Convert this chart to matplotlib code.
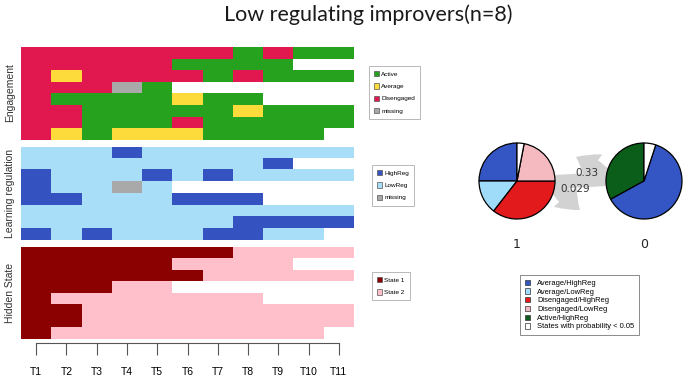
import numpy as np
import matplotlib
matplotlib.use("Agg")
import matplotlib.pyplot as plt
from matplotlib.colors import to_rgba
from matplotlib.patches import Patch

# sequences (one string per person, one letter per time point, "." = no data)
times = ["T1", "T2", "T3", "T4", "T5", "T6", "T7", "T8", "T9", "T10", "T11"]

# A = Active, V = Average, D = Disengaged, M = missing
engagement = [
    "DDDDDDDADAA",
    "DDDDDAAAA..",
    "DVDDDDADAAA",
    "DDDMA......",
    "DAAAAVAA...",
    "DDAAAAAVAAA",
    "DDAAADAAAAA",
    "DVAVVVAAAA.",
]
# H = HighReg, L = LowReg, M = missing
regulation = [
    "LLLHLLLLLLL",
    "LLLLLLLLH..",
    "HLLLHLHLLLL",
    "HLLML......",
    "HHLLLHHH...",
    "LLLLLLLLLLL",
    "LLLLLLLHHHH",
    "HLHLLLHHLL.",
]
# 1 = State 1, 2 = State 2
hidden = [
    "11111112222",
    "111112222..",
    "11111122222",
    "11122......",
    "12222222...",
    "11222222222",
    "11222222222",
    "1222222222.",
]

eng_labels = {"A": "Active", "V": "Average", "D": "Disengaged", "M": "missing"}
eng_colors = {"A": "#27a21f", "V": "#fddb3a", "D": "#e0184f", "M": "#a9a9a9"}
reg_labels = {"H": "HighReg", "L": "LowReg", "M": "missing"}
reg_colors = {"H": "#3453c0", "L": "#a8def8", "M": "#a9a9a9"}
hid_labels = {"1": "State 1", "2": "State 2"}
hid_colors = {"1": "#8b0000", "2": "#ffc0cb"}

# emission pies (counter clockwise from the top)
pie1_values = [0.25, 0.145, 0.355, 0.22, 0.03]
pie1_colors = ["#3456c4", "#9fdcfa", "#e31a1c", "#f5b9c0", "white"]
pie2_values = [0.33, 0.62, 0.05]
pie2_colors = ["#0b5e1a", "#3456c4", "white"]
pie_names = ["1", "0"]
trans_labels = ["0.33", "0.029"]
pie_legend = ["Average/HighReg", "Average/LowReg", "Disengaged/HighReg",
              "Disengaged/LowReg", "Active/HighReg", "States with probability < 0.05"]
pie_legend_colors = ["#3456c4", "#9fdcfa", "#e31a1c", "#f5b9c0", "#0b5e1a", "white"]

W, H = 685, 378
fig = plt.figure(figsize=(W / 100, H / 100), dpi=100)
plt.rcParams["font.family"] = ["Liberation Sans", "DejaVu Sans"]


def fx(px):
    return px / W


def fy(py):
    return 1 - py / H


# overlay in pixel coords for the arrows
over = fig.add_axes([0, 0, 1, 1])
over.set_xlim(0, W)
over.set_ylim(H, 0)
over.axis("off")


def seq_panel(top, bottom, rows, colors):
    ax = fig.add_axes([fx(21), fy(bottom), fx(354) - fx(21), fy(top) - fy(bottom)])
    img = np.ones((len(rows), len(times), 4))
    for i, r in enumerate(rows):
        for j, c in enumerate(r):
            if c != ".":
                img[i, j] = to_rgba(colors[c])
    ax.imshow(img, extent=(0.5, len(times) + 0.5, len(rows) + 0.5, 0.5),
              aspect="auto", interpolation="nearest")
    ax.set_xlim(0.5, len(times) + 0.5)
    for s in ax.spines.values():
        s.set_visible(False)
    ax.set_xticks([])
    ax.set_yticks([])
    return ax


ax1 = seq_panel(47, 140, engagement, eng_colors)
ax2 = seq_panel(147, 240, regulation, reg_colors)
ax3 = seq_panel(247, 339, hidden, hid_colors)

ax3.spines["bottom"].set_visible(True)
ax3.spines["bottom"].set_position(("outward", 3))
ax3.spines["bottom"].set_bounds(1, len(times))
ax3.spines["bottom"].set_color("#555555")
ax3.set_xticks(range(1, len(times) + 1))
ax3.set_xticklabels(times, fontsize=7.5)
ax3.tick_params(axis="x", length=8.5, width=0.8, color="#555555", pad=9)

for txt, yc in [("Engagement", 93), ("Learning regulation", 193), ("Hidden State", 293)]:
    fig.text(fx(10), fy(yc), txt, rotation=90, ha="center", va="center", fontsize=7.5,
             color="#333333")


def seq_legend(labels, colors, x, y):
    handles = [Patch(facecolor=colors[k], edgecolor="#555555", linewidth=0.5, label=labels[k])
               for k in labels]
    leg = fig.legend(handles=handles, loc="upper left", bbox_to_anchor=(fx(x), fy(y)),
                     fontsize=4.6, frameon=True, fancybox=False, handlelength=0.7,
                     handleheight=0.9, handletextpad=0.4, labelspacing=1.0,
                     borderpad=0.8, borderaxespad=0)
    leg.get_frame().set_edgecolor("#999999")
    leg.get_frame().set_linewidth(0.6)


seq_legend(eng_labels, eng_colors, 369, 66)
seq_legend(reg_labels, reg_colors, 372, 165)
seq_legend(hid_labels, hid_colors, 372, 272)

# transition arrows
gray = "#d2d2d2"
style = "simple,head_width=1.7,head_length=1.1,tail_width=0.9"
over.plot([553, 608], [182, 179], color=gray, lw=10, solid_capstyle="butt")
over.annotate("", xy=(576, 157), xytext=(606, 178),
              arrowprops=dict(arrowstyle=style, color=gray, lw=0, shrinkA=0, shrinkB=0,
                              connectionstyle="arc3,rad=0.1", mutation_scale=13))
over.annotate("", xy=(580, 210), xytext=(556, 184),
              arrowprops=dict(arrowstyle=style, color=gray, lw=0, shrinkA=0, shrinkB=0,
                              connectionstyle="arc3,rad=0.1", mutation_scale=13))
over.text(587, 173, trans_labels[0], ha="center", va="center", fontsize=7.5,
          family="DejaVu Sans", color="#333333")
over.text(575, 189, trans_labels[1], ha="center", va="center", fontsize=7.5,
          family="DejaVu Sans", color="#333333")

# pies
r = 38
for (cx, cy), vals, cols, name in [((517, 181), pie1_values, pie1_colors, pie_names[0]),
                                   ((644, 181), pie2_values, pie2_colors, pie_names[1])]:
    pa = fig.add_axes([fx(cx - 41), fy(cy + 41), fx(82), 82 / H])
    pa.pie(vals, colors=cols, startangle=90, counterclock=True,
           wedgeprops=dict(edgecolor="black", linewidth=0.9))
    pa.set_xlim(-41 / r, 41 / r)
    pa.set_ylim(-41 / r, 41 / r)
    pa.set_aspect("equal")
    pa.axis("off")
    fig.text(fx(cx), fy(244), name, ha="center", va="center", fontsize=9,
             family="DejaVu Sans", color="#222222")

handles = [Patch(facecolor=c, edgecolor="#333333", linewidth=0.5, label=l)
           for l, c in zip(pie_legend, pie_legend_colors)]
leg = fig.legend(handles=handles, loc="upper left", bbox_to_anchor=(fx(520), fy(275)),
                 fontsize=5.4, frameon=True, fancybox=False, handlelength=0.7,
                 handleheight=0.7, handletextpad=1.0, labelspacing=0.2,
                 borderpad=0.6, borderaxespad=0)
leg.get_frame().set_edgecolor("#555555")
leg.get_frame().set_linewidth(0.6)

fig.text(fx(368), fy(15), "Low regulating improvers(n=8)", ha="center", va="center",
         fontsize=15.5, family=["Lato", "DejaVu Sans"], color="#1a1a1a")

fig.savefig("out.png", dpi=100)
